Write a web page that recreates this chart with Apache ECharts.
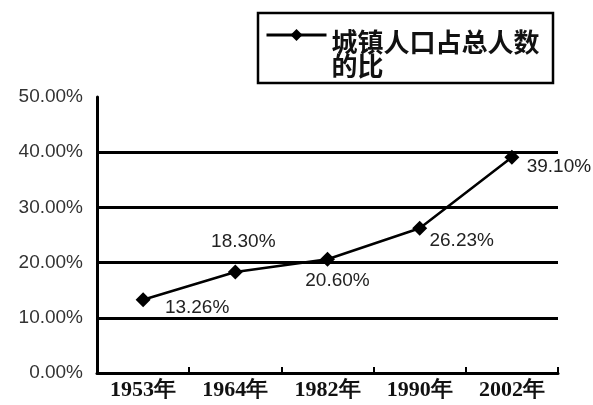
<!DOCTYPE html>
<html>
<head>
<meta charset="utf-8">
<script src="https://cdn.jsdelivr.net/npm/echarts@6/dist/echarts.min.js"></script>
<style>
  html, body { margin: 0; padding: 0; background: #fff; }
  #chart { width: 593px; height: 405px; }
</style>
</head>
<body>
<div id="chart"></div>
<script>
// Share of urban population in the total, by census year
const years = ['1953年', '1964年', '1982年', '1990年', '2002年'];
const urbanShare = [13.26, 18.30, 20.60, 26.23, 39.10];
const seriesName = '城镇人口占总人数的比';
const yTicks = [0, 10, 20, 30, 40, 50];

// Per-point label placement (offset from the marker centre)
const labelOffsets = [[54, 8], [8, -30], [10, 21], [42, 13], [47, 10]];

const chart = echarts.init(document.getElementById('chart'));

chart.setOption({
  backgroundColor: '#fff',
  animation: false,
  grid: { left: 97, right: 35, top: 97, bottom: 32, containLabel: false },
  legend: {
    data: [seriesName],
    left: 265,
    top: 6,
    padding: 0,
    itemWidth: 60,
    itemHeight: 15,
    itemGap: 5,
    lineStyle: { width: 3, color: '#000' },
    // spacer line first so the icon sits level with the first text line
    formatter: function () { return '{s| }\n{t|城镇人口占总人数}\n{t|的比}'; },
    textStyle: {
      color: '#111',
      rich: {
        s: { fontSize: 10, lineHeight: 38 },
        t: {
          fontFamily: 'Noto Sans CJK SC',
          fontWeight: 'bold',
          fontSize: 26,
          lineHeight: 24,
          color: '#111'
        }
      }
    }
  },
  graphic: [{
    type: 'rect',
    shape: { x: 258, y: 13, width: 295, height: 70 },
    style: { fill: 'none', stroke: '#000', lineWidth: 2.5 },
    silent: true
  }],
  xAxis: {
    type: 'category',
    data: years,
    boundaryGap: true,
    axisLine: { lineStyle: { color: '#000', width: 3 } },
    axisTick: { show: true, inside: true, length: 6, lineStyle: { color: '#000', width: 2 } },
    axisLabel: {
      margin: 6,
      fontFamily: 'Liberation Serif',
      fontWeight: 'bold',
      fontSize: 22,
      color: '#111'
    }
  },
  yAxis: {
    type: 'value',
    min: yTicks[0],
    max: yTicks[yTicks.length - 1],
    interval: 10,
    axisLine: { show: true, lineStyle: { color: '#000', width: 3 } },
    axisTick: { show: false },
    axisLabel: {
      margin: 14,
      fontFamily: 'Liberation Sans',
      fontSize: 19,
      color: '#333',
      formatter: function (v) { return v.toFixed(2) + '%'; }
    },
    splitLine: {
      show: true,
      lineStyle: { color: ['#000', '#000', '#000', '#000', '#000', 'rgba(0,0,0,0)'], width: 3 }
    }
  },
  series: [{
    name: seriesName,
    type: 'line',
    data: urbanShare.map(function (v, i) {
      return {
        value: v,
        label: { offset: labelOffsets[i] }
      };
    }),
    symbol: 'diamond',
    symbolSize: 15,
    itemStyle: { color: '#000' },
    lineStyle: { color: '#000', width: 2.5 },
    label: {
      show: true,
      position: 'inside',
      align: 'center',
      verticalAlign: 'middle',
      fontFamily: 'Liberation Sans',
      fontSize: 19,
      color: '#222',
      formatter: function (p) { return p.value.toFixed(2) + '%'; }
    },
    z: 5
  }]
});
</script>
</body>
</html>
